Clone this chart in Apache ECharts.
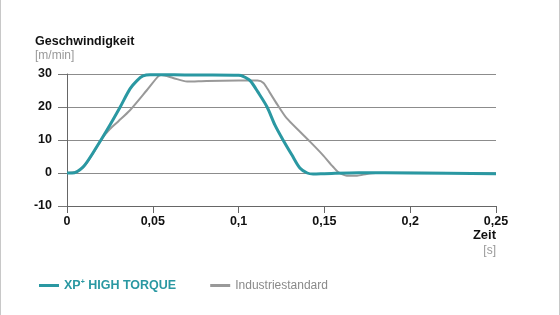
<!DOCTYPE html>
<html>
<head>
<meta charset="utf-8">
<script src="https://cdn.jsdelivr.net/npm/echarts@6/dist/echarts.min.js"></script>
<style>html,body{margin:0;padding:0;background:#fff}#c{width:560px;height:315px}</style>
</head>
<body>
<div id="c"></div>
<script>
// Data (time in s, speed in m/min)
var xpTime =  [0, 0.003, 0.0093, 0.015, 0.0233, 0.031, 0.0367, 0.0408, 0.0443, 0.0484, 0.055, 0.07, 0.085, 0.1, 0.1026, 0.1067, 0.1113, 0.1166, 0.1212, 0.1259, 0.131, 0.1357, 0.14, 0.1434, 0.15, 0.17, 0.2, 0.25];
var xpSpeed = [0, 0,     1.8,    6,     13,     20,    25.5,   28,     29.4,   29.8,   29.8,  29.7, 29.7, 29.6, 29.3,   28,     24.5,   20,     14.5,   10,     5.5,   1.5,    0,    -0.3,   -0.2, 0.1,  0,   -0.2];
var stdTime =  [0, 0.005, 0.01, 0.015, 0.0202, 0.025, 0.03, 0.0367, 0.0464, 0.053, 0.055, 0.0618, 0.07, 0.0814, 0.1, 0.111, 0.1145, 0.118, 0.1225, 0.128, 0.1358, 0.1416, 0.149, 0.155, 0.158, 0.163, 0.169, 0.1747, 0.18, 0.2, 0.25];
var stdSpeed = [0, 0.3,   2,    5.8,   10.3,   13.3,  15.7, 19,     25,     29.2,  29.7,  28.8,   27.7, 27.9,   28,  28,    27.3,   24.5,  20.8,   16.6,  12.5,   9.5,    5.5,   1.9,   0.3,   -0.8,  -0.8,  -0.3,   0,    0.1, -0.1];
var xTicks = [0, 0.05, 0.1, 0.15, 0.2, 0.25];
var yTicks = [-10, 0, 10, 20, 30];
var seriesNames = ['XP+ HIGH TORQUE', 'Industriestandard'];

function pairs(xs, ys) { return xs.map(function (x, i) { return [x, ys[i]]; }); }

var TEAL = '#2a98a2';
var GREY = '#999999';
var FONT = '"Liberation Sans", Arial, Helvetica, sans-serif';

var chart = echarts.init(document.getElementById('c'), null, { renderer: 'canvas' });
chart.setOption({
  backgroundColor: '#ffffff',
  animation: false,
  textStyle: { fontFamily: FONT },
  grid: { left: 67, right: 64, top: 74, bottom: 109, containLabel: false },
  xAxis: {
    type: 'value',
    min: xTicks[0], max: xTicks[xTicks.length - 1], interval: 0.05,
    axisLine: { onZero: false, lineStyle: { color: '#666', width: 1 } },
    axisTick: { show: true, length: 7, lineStyle: { color: '#666', width: 1 } },
    splitLine: { show: false },
    axisLabel: {
      margin: 9, color: '#111', fontWeight: 'bold', fontSize: 12.5, fontFamily: FONT,
      formatter: function (v) { return String(+v.toFixed(2)).replace('.', ','); }
    }
  },
  yAxis: {
    type: 'value',
    min: yTicks[0], max: yTicks[yTicks.length - 1], interval: 10,
    axisLine: { show: true, lineStyle: { color: '#666', width: 1 } },
    axisTick: { show: true, length: 9, lineStyle: { color: '#777', width: 1 } },
    splitLine: { show: true, lineStyle: { color: '#8c8c8c', width: 1.2 } },
    axisLabel: { margin: 15, color: '#111', fontWeight: 'bold', fontSize: 12.5, fontFamily: FONT }
  },
  legend: {
    left: 34, top: 274,
    itemWidth: 20, itemHeight: 3, itemGap: 34,
    icon: 'rect',
    data: [
      { name: seriesNames[0], itemStyle: { color: TEAL } },
      { name: seriesNames[1], itemStyle: { color: GREY } }
    ],
    formatter: function (name) {
      if (name === seriesNames[0]) return '{b|XP}{s|+}{b| HIGH TORQUE}';
      return '{g|' + name + '}';
    },
    textStyle: {
      fontFamily: FONT,
      rich: {
        b: { color: TEAL, fontWeight: 'bold', fontSize: 12.5, fontFamily: FONT },
        s: { color: TEAL, fontWeight: 'bold', fontSize: 7, fontFamily: FONT, verticalAlign: 'top', padding: [0, 0, 6, 0] },
        g: { color: '#8a8a8a', fontSize: 12, fontFamily: FONT }
      }
    }
  },
  graphic: [
    { type: 'line', shape: { x1: 0.5, y1: 0, x2: 0.5, y2: 315 }, style: { stroke: '#c8c8c8', lineWidth: 1 } },
    { type: 'line', shape: { x1: 559.5, y1: 0, x2: 559.5, y2: 315 }, style: { stroke: '#c8c8c8', lineWidth: 1 } },
    { type: 'text', left: 35, top: 35, style: { text: 'Geschwindigkeit', fill: '#111', font: 'bold 12.5px ' + FONT } },
    { type: 'text', left: 35, top: 50, style: { text: '[m/min]', fill: '#999', font: '12px ' + FONT } },
    { type: 'text', right: 64, top: 229, style: { text: 'Zeit', fill: '#111', font: 'bold 13px ' + FONT, textAlign: 'right' } },
    { type: 'text', right: 64, top: 245, style: { text: '[s]', fill: '#999', font: '12px ' + FONT, textAlign: 'right' } }
  ],
  series: [
    {
      name: seriesNames[1], type: 'line', data: pairs(stdTime, stdSpeed),
      showSymbol: false, smooth: 0.25, z: 2,
      lineStyle: { color: GREY, width: 2 }, itemStyle: { color: GREY }
    },
    {
      name: seriesNames[0], type: 'line', data: pairs(xpTime, xpSpeed),
      showSymbol: false, smooth: 0.3, z: 3,
      lineStyle: { color: TEAL, width: 3 }, itemStyle: { color: TEAL }
    }
  ]
});
</script>
</body>
</html>
